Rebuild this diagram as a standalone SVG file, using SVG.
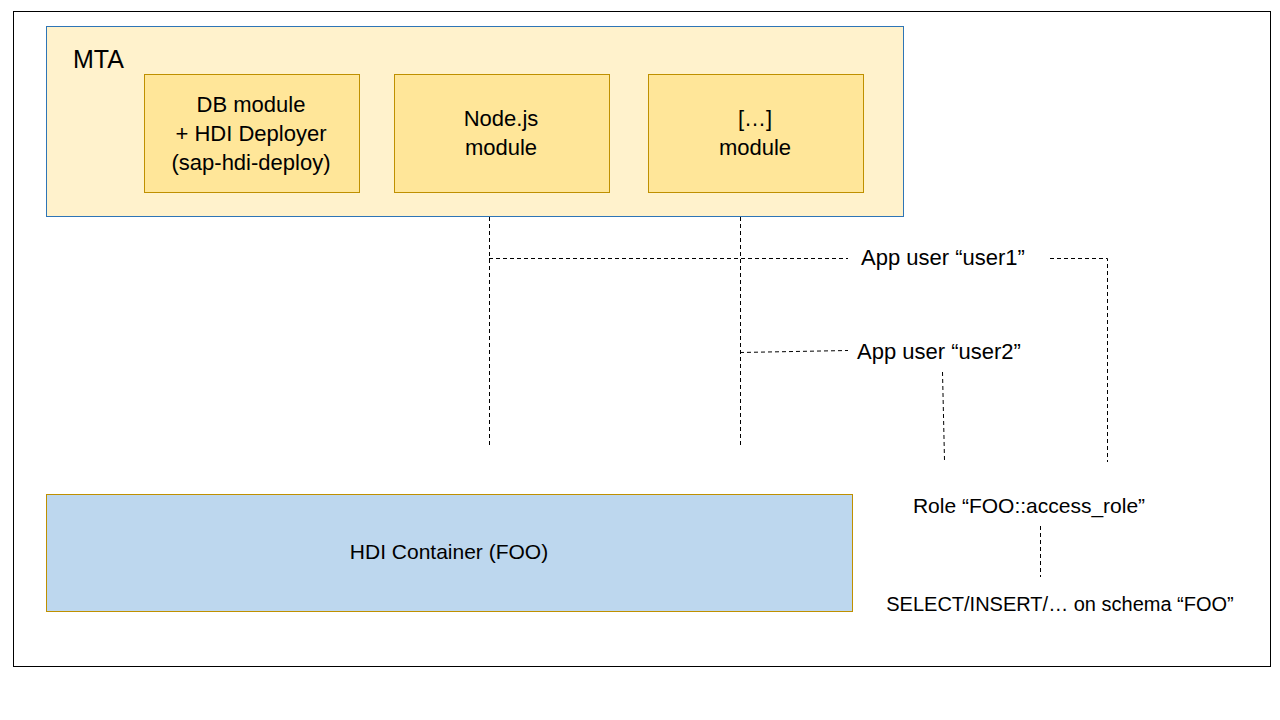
<svg xmlns="http://www.w3.org/2000/svg" width="1280" height="720" viewBox="0 0 1280 720">
<style>
text{font-family:"Liberation Sans",Arial,sans-serif;font-size:21px;fill:#000}
.mod rect{fill:#FFE699;stroke:#BF9000;stroke-width:1}
.mod text{font-size:22px}
.big{font-size:25px}
.usr{font-size:22px}
.sm{font-size:20px}
.dash{fill:none;stroke:#000;stroke-width:1;stroke-dasharray:4 3}
.c{text-anchor:middle}
</style>
<rect x="0" y="0" width="1280" height="720" fill="#fff"/>
<rect x="13.5" y="11.5" width="1257" height="655" fill="none" stroke="#000" stroke-width="1"/>
<g id="mta">
<rect x="46.5" y="26.5" width="857" height="190" fill="#FFF2CC" stroke="#2E75B6" stroke-width="1"/>
<text class="big" x="73" y="68">MTA</text>
</g>
<g id="db-module" class="mod">
<rect x="144.5" y="74.5" width="215" height="118"/>
<text class="c" x="251" y="112">DB module</text>
<text class="c" x="251" y="141">+ HDI Deployer</text>
<text class="c" x="251" y="170">(sap-hdi-deploy)</text>
</g>
<g id="nodejs-module" class="mod">
<rect x="394.5" y="74.5" width="215" height="118"/>
<text class="c" x="501" y="126">Node.js</text>
<text class="c" x="501" y="155">module</text>
</g>
<g id="other-module" class="mod">
<rect x="648.5" y="74.5" width="215" height="118"/>
<text class="c" x="755" y="126">[…]</text>
<text class="c" x="755" y="155">module</text>
</g>
<g id="hdi-container">
<rect x="46.5" y="494.5" width="806" height="117" fill="#BDD7EE" stroke="#BF9000" stroke-width="1"/>
<text class="c" x="449" y="559">HDI Container (FOO)</text>
</g>
<g id="user1"><text class="usr" x="861" y="265">App user “user1”</text></g>
<g id="user2"><text class="usr" x="857" y="359">App user “user2”</text></g>
<g id="role"><text class="c" x="1029" y="513">Role “FOO::access_role”</text></g>
<g id="privileges"><text class="c sm" x="1060" y="611">SELECT/INSERT/… on schema “FOO”</text></g>
<g id="connectors">
<path class="dash" d="M489.5 217V445"/>
<path class="dash" d="M740.5 217V445"/>
<path class="dash" d="M489 258.5H848"/>
<path class="dash" d="M1050 258.5H1107.5V462"/>
<path class="dash" d="M740 352.5L848 350.5"/>
<path class="dash" d="M942.5 372L944.5 460"/>
<path class="dash" d="M1040.5 526V577"/>
</g>
</svg>
